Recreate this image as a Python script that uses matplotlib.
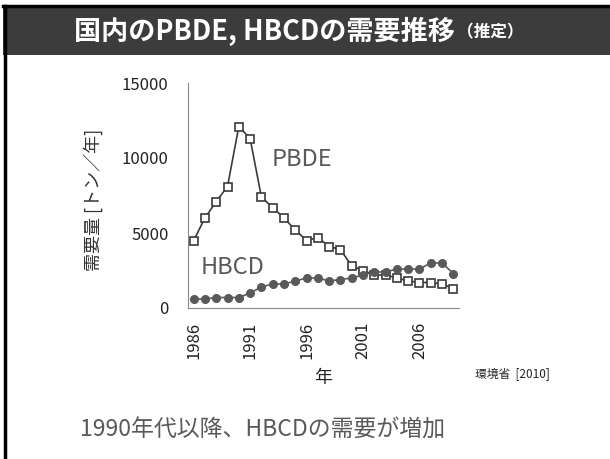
import numpy as np
import matplotlib
matplotlib.use("Agg")
import matplotlib.pyplot as plt
from matplotlib.patches import Rectangle
from matplotlib.lines import Line2D

plt.rcParams['font.family'] = ['Noto Sans CJK JP', 'DejaVu Sans']

years = list(range(1986, 2010))
pbde = [4500, 6000, 7100, 8100, 12100, 11300, 7400, 6700, 6000, 5200, 4500, 4700,
        4100, 3900, 2800, 2500, 2200, 2200, 2000, 1800, 1700, 1700, 1600, 1300]
hbcd = [600, 600, 700, 700, 700, 1000, 1400, 1600, 1600, 1800, 2000, 2000,
        1800, 1900, 2000, 2200, 2400, 2400, 2600, 2600, 2600, 3000, 3000, 2300]
xtick_years = [1986, 1991, 1996, 2001, 2006]
yticks = [0, 5000, 10000, 15000]

title = '国内のPBDE, HBCDの需要推移'
title_small = '（推定）'
ylabel = '需要量 [トン／年]'
xlabel = '年'
source = '環境省  [2010]'
caption = '1990年代以降、HBCDの需要が増加'

fig = plt.figure(figsize=(6.1, 4.59), dpi=100)

# title bar and frame
fig.patches.append(Rectangle((0.005, 1 - 55/459), 0.995, 48/459, transform=fig.transFigure,
                             facecolor='#3c3c3c', edgecolor='none', zorder=0))
fig.lines.append(Line2D([0.005, 1], [1 - 5.5/459, 1 - 5.5/459], transform=fig.transFigure,
                        color='black', linewidth=2.5))
fig.lines.append(Line2D([4.5/610, 4.5/610], [0, 1 - 5.5/459], transform=fig.transFigure,
                        color='black', linewidth=2.5))

fig.text(455/610, 1 - 31/459, title, color='white', fontsize=19.5, fontweight='bold',
         ha='right', va='center')
fig.text(457/610, 1 - 32/459, title_small, color='white', fontsize=12, fontweight='bold',
         ha='left', va='center')

ax = fig.add_axes([188/610, 1 - 308/459, (459 - 188)/610, (308 - 83)/459])
ax.plot(years, pbde, color='#3a3a3a', linewidth=1.2, marker='s', markersize=6,
        markerfacecolor='white', markeredgecolor='#3a3a3a', markeredgewidth=1.2, zorder=3)
ax.plot(years, hbcd, color='#595959', linewidth=1.2, marker='o', markersize=5.5,
        markerfacecolor='#595959', markeredgecolor='#595959', zorder=4)

ax.set_xlim(1985.5, 2009.5)
ax.set_ylim(0, 15000)
ax.set_yticks(yticks)
ax.set_xticks(xtick_years)
ax.set_xticklabels([str(y) for y in xtick_years], rotation=90)
ax.tick_params(length=0, labelsize=12, labelcolor='#222222')
ax.tick_params(axis='y', pad=14)
ax.tick_params(axis='x', pad=10)
for s in ['top', 'right']:
    ax.spines[s].set_visible(False)
for s in ['left', 'bottom']:
    ax.spines[s].set_color('#888888')
    ax.spines[s].set_clip_on(False)

ax.text(1992.9, 9870, 'PBDE', fontsize=17, color='#595959', ha='left', va='center')
ax.text(1986.6, 2670, 'HBCD', fontsize=17, color='#595959', ha='left', va='center')

fig.text(93/610, 1 - 200/459, ylabel, rotation=90, fontsize=13, color='#333333',
         ha='center', va='center')
fig.text(323/610, 1 - 378/459, xlabel, fontsize=13, color='#222222', ha='center', va='center')
fig.text(512/610, 1 - 374/459, source, fontsize=8.5, color='#222222', ha='center', va='center')
fig.text(263/610, 1 - 430/459, caption, fontsize=16.5, color='#595959', ha='center', va='center')

fig.savefig('out.png', dpi=100)
